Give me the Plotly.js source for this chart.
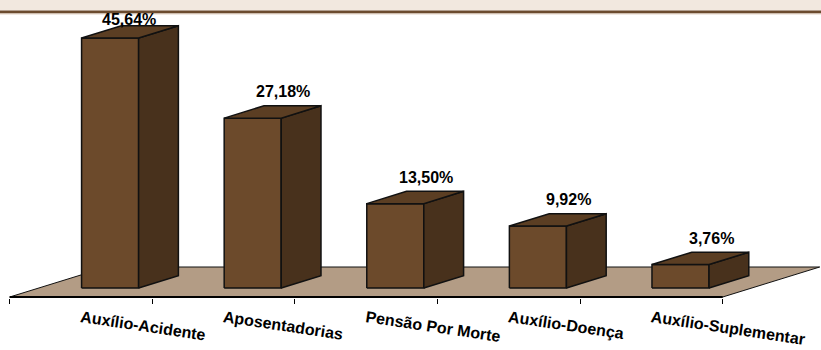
<!DOCTYPE html>
<html>
<head>
<meta charset="utf-8">
<script src="https://cdn.plot.ly/plotly-3.0.1.min.js"></script>
<style>
  html, body { margin: 0; padding: 0; background: #ffffff; }
  #chart { width: 821px; height: 350px; }
</style>
</head>
<body>
<div id="chart"></div>
<script>
// Benefit types and their share of the total
const categories = ['Auxílio-Acidente', 'Aposentadorias', 'Pensão Por Morte', 'Auxílio-Doença', 'Auxílio-Suplementar'];
const shares = [45.64, 27.18, 13.50, 9.92, 3.76];
const shareLabels = ['45,64%', '27,18%', '13,50%', '9,92%', '3,76%'];

// Value axis ceiling of the column chart: taller columns are cut at it
const VALUE_CEILING = 40;

// Pixel geometry of the plot
const W = 821, H = 350;
const M = { l: 8, r: 0, t: 0, b: 52 };
const BAND_PX = 142.6;          // width of one category band
const FIRST_CENTER_PX = 81;     // first band centre on the floor's front edge
const FLOOR_FRONT_PX = 297;     // y pixel of the floor's front edge
const PX_PER_UNIT = 6.25;       // vertical pixels per percentage point
const DEPTH_PX = [97, 30];      // floor depth vector (right, up)

// Axis ranges derived from that geometry
const plotBottom = H - M.b;
const xRange = [(M.l - FIRST_CENTER_PX) / BAND_PX, (W - M.r - FIRST_CENTER_PX) / BAND_PX];
const yRange = [(FLOOR_FRONT_PX - plotBottom) / PX_PER_UNIT, (FLOOR_FRONT_PX - M.t) / PX_PER_UNIT];

// Depth vector in data units
const DX = DEPTH_PX[0] / BAND_PX;
const DY = DEPTH_PX[1] / PX_PER_UNIT;

// Columns sit in the middle of the floor depth
const BAR_W = 0.4;
const Z_FRONT = 0.30, Z_BACK = 0.71;

const colors = {
  floor: '#b39c85',
  front: '#6c4a2b',
  top: '#5b3e23',
  side: '#48311c',
  edge: '#111111'
};

const FONT = 'Liberation Sans, Arial, sans-serif';

function poly(xs, ys, fill, lineWidth) {
  return {
    type: 'scatter', mode: 'lines',
    x: xs.concat([xs[0]]), y: ys.concat([ys[0]]),
    fill: 'toself', fillcolor: fill,
    line: { color: colors.edge, width: lineWidth },
    hoverinfo: 'skip', showlegend: false
  };
}

const traces = [];

// Floor
const n = categories.length;
traces.push(poly(
  [-0.5, n - 0.5, n - 0.5 + DX, -0.5 + DX],
  [0, 0, DY, DY],
  colors.floor, 1
));
// Darker front edge of the floor
traces.push({
  type: 'scatter', mode: 'lines',
  x: [-0.5, n - 0.5], y: [0, 0],
  line: { color: '#000000', width: 2 },
  hoverinfo: 'skip', showlegend: false
});

// Columns: front, side and top faces
const annotations = [];
categories.forEach((cat, i) => {
  const clipped = shares[i] > VALUE_CEILING;
  const h = Math.min(shares[i], VALUE_CEILING);
  const x0 = i - BAR_W / 2 + Z_FRONT * DX;
  const x1 = x0 + BAR_W;
  const yb = Z_FRONT * DY;
  const yt = yb + h;
  const dz = Z_BACK - Z_FRONT;
  const ddx = dz * DX, ddy = dz * DY;

  traces.push(poly([x0, x1, x1, x0], [yb, yb, yt, yt], colors.front, 1.5));
  traces.push(poly([x1, x1 + ddx, x1 + ddx, x1], [yb, yb + ddy, yt + ddy, yt], colors.side, 1.5));
  traces.push(poly([x0, x1, x1 + ddx, x0 + ddx], [yt, yt, yt + ddy, yt + ddy], colors.top, 1.5));

  // Value label above the back edge of the column top; a cut column keeps
  // its label just under the header
  const labelY = clipped ? (FLOOR_FRONT_PX - 19) / PX_PER_UNIT : yt + ddy + 14 / PX_PER_UNIT;
  annotations.push({
    x: clipped ? i + 0.34 : i + 0.42, y: labelY, xref: 'x', yref: 'y',
    text: shareLabels[i], showarrow: false,
    xanchor: 'center', yanchor: 'middle',
    font: { family: FONT, size: 16, color: '#000000', weight: 'bold' }
  });
});

// Header band across the top
const py = p => 1 - (p - M.t) / (plotBottom - M.t);
const pxp = p => (p - M.l) / (W - M.r - M.l);
const shapes = [
  { type: 'rect', xref: 'paper', yref: 'paper', x0: pxp(0), x1: pxp(W), y0: py(10.5), y1: py(0),
    fillcolor: '#f2e8df', line: { width: 0 }, layer: 'above' },
  { type: 'rect', xref: 'paper', yref: 'paper', x0: pxp(0), x1: pxp(W), y0: py(13.5), y1: py(10.5),
    fillcolor: '#6b4b2e', line: { width: 0 }, layer: 'above' },
  { type: 'rect', xref: 'paper', yref: 'paper', x0: pxp(0), x1: pxp(W), y0: py(14.5), y1: py(13.5),
    fillcolor: '#e6d6c8', line: { width: 0 }, layer: 'above' }
];

const layout = {
  width: W, height: H,
  margin: M,
  paper_bgcolor: '#ffffff', plot_bgcolor: 'rgba(0,0,0,0)',
  showlegend: false,
  xaxis: {
    range: xRange, fixedrange: true,
    showgrid: false, zeroline: false, showline: false,
    tickmode: 'array', tickvals: categories.map((c, i) => i), ticktext: categories,
    tickangle: 8.5, ticks: '',
    ticklabelstandoff: 7,
    tickfont: { family: FONT, size: 16, color: '#000000', weight: 'bold' },
    minor: { tickmode: 'array', tickvals: categories.map((c, i) => i - 0.5).concat([n - 0.5]),
             ticks: 'outside', ticklen: 5, tickwidth: 1, tickcolor: '#000000', showgrid: false }
  },
  yaxis: {
    range: yRange, fixedrange: true, visible: false,
    showgrid: false, zeroline: false
  },
  shapes: shapes,
  annotations: annotations
};

Plotly.newPlot('chart', traces, layout, { displayModeBar: false, staticPlot: true });
</script>
</body>
</html>
